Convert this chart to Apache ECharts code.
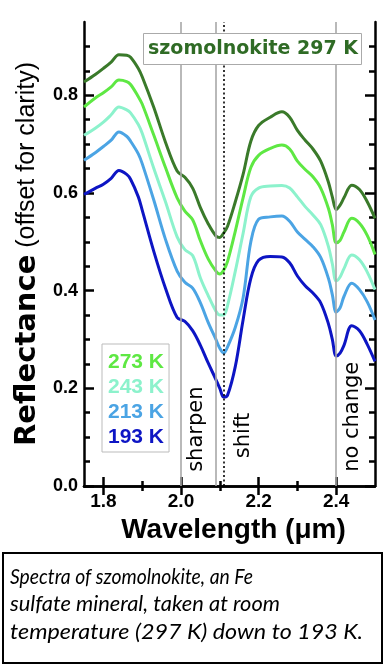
<!DOCTYPE html>
<html><head><meta charset="utf-8">
<script src="https://cdn.jsdelivr.net/npm/echarts@6/dist/echarts.min.js"></script>
<style>html,body{margin:0;padding:0;background:#fff}#c{width:386px;height:668px}</style>
</head><body><div id="c"></div>
<script>
// ---- data ----
const wavelength = [1.75, 1.78, 1.80, 1.82, 1.84, 1.86, 1.87, 1.89, 1.90, 1.93, 1.96, 1.99, 2.01, 2.03, 2.05, 2.07, 2.09, 2.10, 2.11, 2.12, 2.14, 2.16, 2.18, 2.20, 2.23, 2.26, 2.28, 2.30, 2.32, 2.34, 2.36, 2.38, 2.39, 2.40, 2.41, 2.42, 2.44, 2.46, 2.48, 2.50];
const r297 = [0.827, 0.843, 0.855, 0.868, 0.883, 0.882, 0.878, 0.855, 0.838, 0.775, 0.704, 0.645, 0.632, 0.610, 0.570, 0.537, 0.512, 0.509, 0.518, 0.532, 0.582, 0.638, 0.706, 0.738, 0.755, 0.766, 0.755, 0.728, 0.708, 0.690, 0.665, 0.622, 0.592, 0.566, 0.575, 0.590, 0.616, 0.607, 0.582, 0.548];
const r273 = [0.776, 0.795, 0.805, 0.817, 0.831, 0.828, 0.822, 0.797, 0.782, 0.718, 0.652, 0.590, 0.563, 0.545, 0.502, 0.465, 0.440, 0.434, 0.442, 0.460, 0.522, 0.590, 0.652, 0.677, 0.691, 0.698, 0.690, 0.665, 0.648, 0.633, 0.610, 0.568, 0.535, 0.498, 0.503, 0.520, 0.548, 0.538, 0.513, 0.474];
const r243 = [0.718, 0.733, 0.745, 0.760, 0.776, 0.770, 0.764, 0.740, 0.722, 0.650, 0.582, 0.510, 0.484, 0.472, 0.426, 0.390, 0.358, 0.350, 0.350, 0.370, 0.440, 0.517, 0.592, 0.610, 0.614, 0.615, 0.610, 0.592, 0.572, 0.555, 0.535, 0.490, 0.455, 0.420, 0.428, 0.445, 0.473, 0.463, 0.438, 0.402];
const r213 = [0.667, 0.683, 0.695, 0.708, 0.725, 0.716, 0.706, 0.680, 0.660, 0.585, 0.505, 0.440, 0.417, 0.405, 0.375, 0.335, 0.300, 0.282, 0.272, 0.285, 0.325, 0.385, 0.500, 0.546, 0.551, 0.553, 0.542, 0.520, 0.505, 0.490, 0.468, 0.425, 0.392, 0.356, 0.365, 0.388, 0.415, 0.402, 0.377, 0.340];
const r193 = [0.597, 0.610, 0.618, 0.630, 0.646, 0.638, 0.628, 0.592, 0.565, 0.480, 0.405, 0.345, 0.337, 0.318, 0.288, 0.252, 0.218, 0.200, 0.182, 0.186, 0.245, 0.340, 0.425, 0.462, 0.470, 0.469, 0.457, 0.430, 0.410, 0.395, 0.375, 0.332, 0.300, 0.266, 0.272, 0.288, 0.328, 0.318, 0.290, 0.255];
const seriesNames = ['297 K', '273 K', '243 K', '213 K', '193 K'];
const legendNames = ['273 K', '243 K', '213 K', '193 K'];
const titleText = 'szomolnokite 297 K';
const xMajorTicks = [1.8, 2.0, 2.2, 2.4];
const xMinorTicks = [1.9, 2.1, 2.3];
const yMajorTicks = [0, 0.2, 0.4, 0.6, 0.8];
const yMinorTicks = [0.05, 0.1, 0.15, 0.25, 0.3, 0.35, 0.45, 0.5, 0.55, 0.65, 0.7, 0.75, 0.85, 0.9];
const grayLines = [2.0, 2.09, 2.4];
const dottedLines = [2.11];
const annotations = [
  {text: 'sharpen', x: 2.041, y: 0.029},
  {text: 'shift', x: 2.162, y: 0.057},
  {text: 'no change', x: 2.443, y: 0.029}
];
const captionLines = ['Spectra of szomolnokite, an Fe', 'sulfate mineral, taken at room', 'temperature (297 K) down to 193 K.'];

// ---- styles / layout ----
const colors = {'297 K': '#3a7a2a', '273 K': '#5ee843', '243 K': '#8cf2cc', '213 K': '#4ba4e4', '193 K': '#0d15c4'};
const values = [r297, r273, r243, r213, r193];
const BLACK = '#000';
const SANS = '"Liberation Sans", Arial, sans-serif';
const DEJAVU = '"DejaVu Sans", sans-serif';
const captionFont = 'italic 21px Lato, "Liberation Sans", sans-serif';
const captionLineWidths = [243, 270, 353];   // rendered widths of the caption lines in the reference
const fontsToLoad = ['bold 19px "Liberation Sans"', '19px "Liberation Sans"', 'bold 19px "DejaVu Sans"',
  '19px "DejaVu Sans"', 'italic 21px Lato'];

function draw() {
  const axisLine = {show: true, lineStyle: {color: BLACK, width: 2.5}};
  const tick = (vals, len) => ({show: true, inside: true, length: len, customValues: vals, lineStyle: {color: BLACK, width: 2.5}});
  const xBase = {type: 'value', min: 1.75, max: 2.5, splitLine: {show: false}};
  const yBase = {type: 'value', min: 0, max: 0.95, splitLine: {show: false}};

  const chart = echarts.init(document.getElementById('c'), null, {renderer: 'canvas'});
  const option = {
    animation: false,
    backgroundColor: '#fff',
    grid: {left: 84, right: 11, top: 22, bottom: 182, containLabel: false, outerBoundsMode: 'none'},
    title: {
      text: titleText, left: 143, top: 33, padding: [5, 4, 5, 5],
      borderColor: '#aaa', borderWidth: 1, backgroundColor: '#fff',
      textStyle: {fontFamily: DEJAVU, fontWeight: 'bold', fontSize: 19, lineHeight: 22, color: '#2f6b25'}
    },
    legend: {
      show: true, orient: 'vertical', left: 102, top: 344,
      itemWidth: 0, itemHeight: 0, itemGap: 0, icon: 'rect', selectedMode: false,
      backgroundColor: '#fff', borderColor: '#bbb', borderWidth: 1, padding: [6, 5, 2, 1],
      textStyle: {fontFamily: SANS, fontWeight: 'bold', fontSize: 21, lineHeight: 25},
      data: legendNames.map(n => ({name: n, textStyle: {color: colors[n]}}))
    },
    xAxis: [
      Object.assign({}, xBase, {
        position: 'bottom', axisLine: axisLine, axisTick: tick(xMajorTicks, 9),
        axisLabel: {show: true, customValues: xMajorTicks, formatter: v => v.toFixed(1), color: BLACK,
          fontFamily: SANS, fontWeight: 'bold', fontSize: 19, margin: 6},
        name: 'Wavelength (μm)', nameLocation: 'middle', nameGap: 28,
        nameTextStyle: {color: BLACK, fontFamily: SANS, fontWeight: 'bold', fontSize: 28, padding: [0, 0, 0, 8]}
      }),
      Object.assign({}, xBase, {position: 'bottom', axisLine: {show: false}, axisTick: tick(xMinorTicks, 5), axisLabel: {show: false}}),
      Object.assign({}, xBase, {position: 'top', axisLine: axisLine, axisTick: tick(xMajorTicks, 9), axisLabel: {show: false}}),
      Object.assign({}, xBase, {position: 'top', axisLine: {show: false}, axisTick: tick(xMinorTicks, 5), axisLabel: {show: false}})
    ],
    yAxis: [
      Object.assign({}, yBase, {
        position: 'left', axisLine: axisLine, axisTick: tick(yMajorTicks, 10),
        axisLabel: {show: true, customValues: yMajorTicks, formatter: v => v.toFixed(1), color: BLACK,
          fontFamily: SANS, fontWeight: 'bold', fontSize: 18, margin: 6},
        name: '{b|Reflectance} {n|(offset for clarity)}', nameLocation: 'middle', nameRotate: 90, nameGap: 31,
        nameTextStyle: {color: BLACK, fontFamily: SANS, fontSize: 25,
          rich: {b: {fontFamily: DEJAVU, fontWeight: 'bold', fontSize: 29, color: BLACK},
                 n: {fontFamily: SANS, fontSize: 25, color: BLACK}}}
      }),
      Object.assign({}, yBase, {position: 'left', axisLine: {show: false}, axisTick: tick(yMinorTicks, 6), axisLabel: {show: false}}),
      Object.assign({}, yBase, {position: 'right', axisLine: axisLine, axisTick: tick(yMajorTicks, 10), axisLabel: {show: false}}),
      Object.assign({}, yBase, {position: 'right', axisLine: {show: false}, axisTick: tick(yMinorTicks, 6), axisLabel: {show: false}})
    ],
    series: [
      {
        name: 'refs', type: 'line', data: [], z: 1, silent: true,
        markLine: {
          silent: true, symbol: ['none', 'none'], label: {show: false},
          lineStyle: {color: '#a8a8a8', width: 1.6, type: 'solid'},
          data: grayLines.map(v => ({xAxis: v}))
            .concat(dottedLines.map(v => ({xAxis: v, lineStyle: {color: BLACK, width: 1.6, type: [2, 2.5]}})))
        }
      }
    ].concat(seriesNames.map((n, k) => ({
      name: n, type: 'line', xAxisIndex: 0, yAxisIndex: 0, z: 3, silent: true,
      symbol: 'none', showSymbol: false, smooth: 0.35,
      lineStyle: {width: 3, color: colors[n]}, itemStyle: {color: colors[n]},
      data: wavelength.map((w, i) => [w, values[k][i]])
    })))
  };
  chart.setOption(option);

  const labelGraphics = annotations.map(a => {
    const p = chart.convertToPixel({seriesIndex: 1}, [a.x, a.y]);
    return {type: 'text', x: p[0], y: p[1], rotation: Math.PI / 2, z: 10,
      style: {text: a.text, fill: BLACK, font: '21px "DejaVu Sans", sans-serif', textAlign: 'left', textVerticalAlign: 'middle'}};
  });
  const measureCtx = document.createElement('canvas').getContext('2d');
  measureCtx.font = captionFont;
  const captionGraphics = captionLines.map((line, i) => ({
    type: 'text', x: 10, y: 563 + i * 27.5, z: 11,
    scaleX: captionLineWidths[i] / measureCtx.measureText(line).width,
    style: {text: line, fill: BLACK, font: captionFont, textAlign: 'left', textVerticalAlign: 'top', lineHeight: 27.5}
  }));
  chart.setOption({
    graphic: [
      {type: 'rect', shape: {x: 3, y: 553, width: 379, height: 110}, style: {fill: '#fff', stroke: BLACK, lineWidth: 2}, z: 10}
    ].concat(captionGraphics, labelGraphics)
  });
}

let drawn = false;
function drawOnce() { if (!drawn) { drawn = true; draw(); } }
if (document.fonts && document.fonts.load) {
  Promise.all(fontsToLoad.map(f => document.fonts.load(f).catch(() => null))).then(drawOnce, drawOnce);
  setTimeout(drawOnce, 1500);
} else {
  drawOnce();
}
</script>
</body></html>
